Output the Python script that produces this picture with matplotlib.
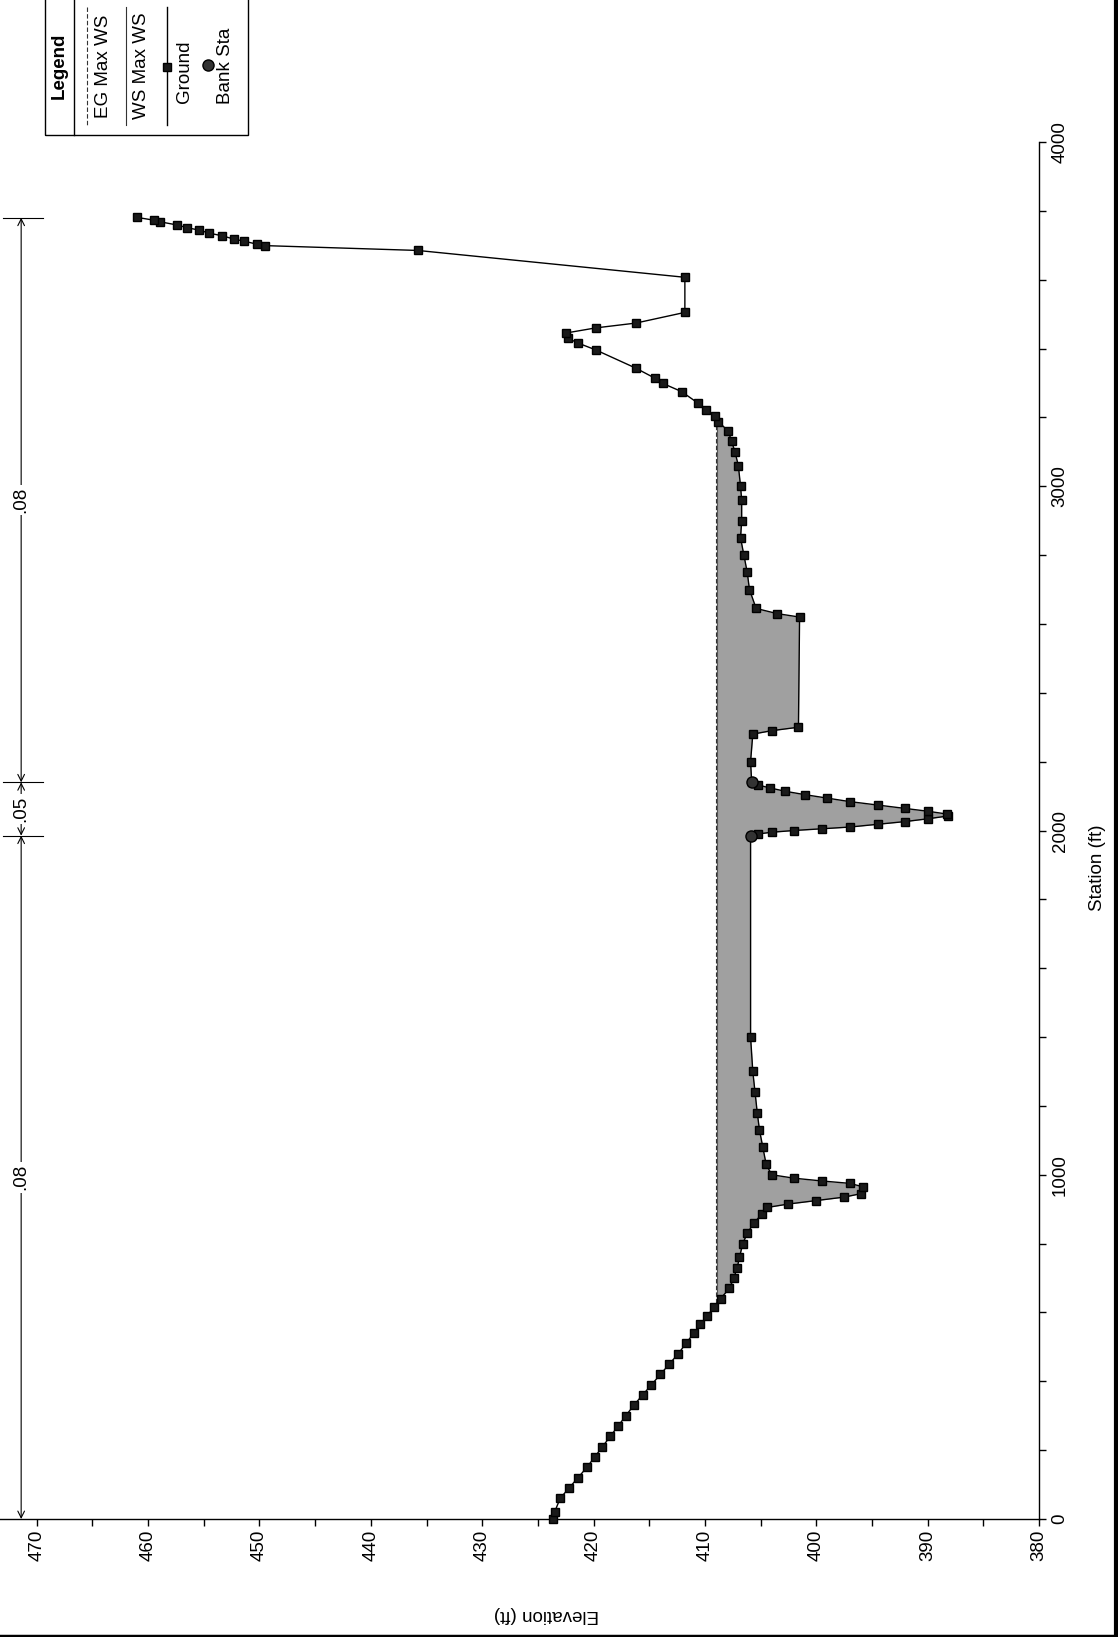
import numpy as np
import matplotlib.pyplot as plt
from matplotlib.lines import Line2D
from matplotlib.patches import Rectangle

plt.rcParams['font.family'] = ['Liberation Sans', 'DejaVu Sans']

# ground profile (station ft, elevation ft)
station = [0, 20, 60, 90, 120, 150, 180, 210, 240, 270, 300, 330, 360, 390, 420, 450,
           480, 510, 540, 565, 590, 615, 640, 670, 700, 730, 760, 800, 830, 860, 885, 905,
           915, 925, 935, 945, 965, 975, 982, 990, 1000, 1030, 1080, 1130, 1180, 1240, 1300,
           1400, 1985, 1990, 1995, 2000, 2005, 2010, 2018, 2026, 2034, 2042, 2048, 2056,
           2064, 2074, 2084, 2094, 2104, 2114, 2124, 2132, 2140, 2200, 2280, 2290, 2300,
           2620, 2630, 2645, 2700, 2750, 2800, 2850, 2900, 2960, 3000, 3060, 3100, 3130,
           3160, 3188, 3203, 3221, 3241, 3275, 3299, 3314, 3343, 3396, 3416, 3430, 3445,
           3460, 3474, 3505, 3607, 3685, 3699, 3703, 3712, 3718, 3728, 3735, 3744, 3751,
           3759, 3768, 3773, 3781]
elevation = [423.6, 423.5, 423.0, 422.2, 421.4, 420.6, 419.9, 419.2, 418.5, 417.8, 417.1,
             416.4, 415.6, 414.8, 414.0, 413.2, 412.4, 411.7, 411.0, 410.4, 409.8, 409.2,
             408.6, 407.8, 407.4, 407.1, 406.9, 406.6, 406.2, 405.6, 404.9, 404.4, 402.5,
             400.0, 397.5, 396.0, 395.8, 397.0, 399.5, 402.0, 404.0, 404.5, 404.8, 405.1,
             405.3, 405.5, 405.7, 405.9, 405.9, 405.2, 404.0, 402.0, 399.5, 397.0, 394.5,
             392.0, 390.0, 388.2, 388.3, 390.0, 392.0, 394.5, 397.0, 399.0, 401.0, 402.8,
             404.2, 405.2, 405.8, 405.9, 405.7, 404.0, 401.6, 401.5, 403.5, 405.4, 406.0,
             406.2, 406.5, 406.8, 406.7, 406.7, 406.8, 407.0, 407.3, 407.6, 407.9, 408.8,
             409.1, 409.9, 410.6, 412.1, 413.8, 414.5, 416.2, 419.8, 421.4, 422.3, 422.5,
             419.8, 416.2, 411.8, 411.8, 435.8, 449.5, 450.2, 451.4, 452.3, 453.4, 454.5,
             455.4, 456.5, 457.4, 458.9, 459.5, 461.0]
bank_sta = [1985, 2140]
bank_elev = [405.9, 405.8]
ws_elev = 408.9
eg_elev = 409.0
n_breaks = [0, 1985, 2140, 3780]
n_values = ['.08', '.05', '.08']

W, H = 1118, 1637
fig = plt.figure(figsize=(W / 100, H / 100), dpi=100)


def fx(px):
    return px / W


def fy(py):
    return 1 - py / H


ax = fig.add_axes([0, fy(1519), fx(1039), fy(142) - fy(1519)])
ax.set_xlim(473.3, 380)
ax.set_ylim(0, 4000)

sta = np.array(station, dtype=float)
elv = np.array(elevation, dtype=float)

# wetted extent of water surface
wet = elv < ws_elev
idx = np.where(wet)[0]
i0, i1 = idx[0], idx[-1]
s_left = np.interp(ws_elev, [elv[i0], elv[i0 - 1]], [sta[i0], sta[i0 - 1]])
s_right = np.interp(ws_elev, [elv[i1], elv[i1 + 1]], [sta[i1], sta[i1 + 1]])

ax.fill_betweenx(sta, elv, ws_elev, where=elv <= ws_elev, interpolate=True,
                 color='#a0a0a0', lw=0, zorder=1)
ax.plot([ws_elev, ws_elev], [s_left, s_right], color='#555555', lw=0.8, zorder=2)
ax.plot([eg_elev, eg_elev], [s_left, s_right], color='#333333', lw=0.8,
        ls=(0, (4, 2)), zorder=2)
ax.plot(elv, sta, color='black', lw=1.0, marker='s', ms=5.8, mfc='#1a1a1a',
        mec='black', zorder=3, clip_on=False)
ax.plot(bank_elev, bank_sta, 'o', ms=8, mfc='#333333', mec='black', zorder=4)

# manning n dimension line
xn = 471.4
for k, lab in enumerate(n_values):
    s0, s1 = n_breaks[k], n_breaks[k + 1]
    ax.annotate('', xy=(xn, s1), xytext=(xn, s0),
                arrowprops=dict(arrowstyle='<->', lw=0.8, color='black',
                                shrinkA=0, shrinkB=0, mutation_scale=12))
    ax.text(xn, (s0 + s1) / 2, lab, rotation=90, ha='center', va='center',
            fontsize=13.5, bbox=dict(fc='white', ec='none', pad=1.5))
for b in n_breaks[1:]:
    ax.plot([473.0, 469.4], [b, b], color='black', lw=0.8)

ax.set_xticks(np.arange(380, 471, 10))
ax.set_xticks(np.arange(385, 471, 10), minor=True)
ax.set_yticks(np.arange(0, 4001, 1000))
ax.set_yticks(np.arange(0, 4001, 200), minor=True)
ax.yaxis.tick_right()
ax.tick_params(axis='x', which='both', direction='out', length=5, width=1,
               labelrotation=90, labelsize=13.5, pad=3)
ax.tick_params(axis='y', which='both', direction='out', length=5, width=1,
               labelrotation=90, labelsize=13.5, pad=4)
for t in ax.get_yticklabels():
    t.set_va('center')
for sp in ['left', 'top']:
    ax.spines[sp].set_visible(False)
for sp in ['bottom', 'right']:
    ax.spines[sp].set_linewidth(1.0)

fig.text(fx(546), fy(1615), 'Elevation (ft)', rotation=180, ha='center', va='center',
         fontsize=13.5)
fig.text(fx(1098), fy(868), 'Station (ft)', rotation=90, ha='center', va='center',
         fontsize=13.5)

# legend drawn rotated, as in the page
fig.add_artist(Rectangle((fx(45), fy(135)), fx(248) - fx(45), fy(-5) - fy(135),
                         transform=fig.transFigure, fill=False, ec='black', lw=1))
fig.add_artist(Line2D([fx(74), fx(74)], [fy(-5), fy(135)], transform=fig.transFigure,
                      color='black', lw=1))
fig.text(fx(59), fy(66), 'Legend', rotation=90, ha='center', va='center',
         fontsize=13.5, fontweight='bold')
fig.add_artist(Line2D([fx(87), fx(87)], [fy(7), fy(125)], transform=fig.transFigure,
                      color='#333333', lw=0.8, ls=(0, (4, 2))))
fig.text(fx(103), fy(66), 'EG Max WS', rotation=90, ha='center', va='center', fontsize=13.5)
fig.add_artist(Line2D([fx(126), fx(126)], [fy(7), fy(125)], transform=fig.transFigure,
                      color='#333333', lw=0.8))
fig.text(fx(142), fy(66), 'WS Max WS', rotation=90, ha='center', va='center', fontsize=13.5)
fig.add_artist(Line2D([fx(167), fx(167)], [fy(7), fy(125)], transform=fig.transFigure,
                      color='black', lw=1))
fig.add_artist(Line2D([fx(167)], [fy(67)], transform=fig.transFigure, marker='s',
                      ms=5.5, mfc='#1a1a1a', mec='black', ls='none'))
fig.text(fx(185), fy(72), 'Ground', rotation=90, ha='center', va='center', fontsize=13.5)
fig.add_artist(Line2D([fx(208)], [fy(65)], transform=fig.transFigure, marker='o',
                      ms=8, mfc='#333333', mec='black', ls='none'))
fig.text(fx(225), fy(66), 'Bank Sta', rotation=90, ha='center', va='center', fontsize=13.5)

# scan border edges
fig.add_artist(Line2D([fx(1116), fx(1116)], [0, 1], transform=fig.transFigure,
                      color='black', lw=3))
fig.add_artist(Line2D([0, 1], [fy(1635.5), fy(1635.5)], transform=fig.transFigure,
                      color='black', lw=2.5))

fig.savefig('out.png', dpi=100)
